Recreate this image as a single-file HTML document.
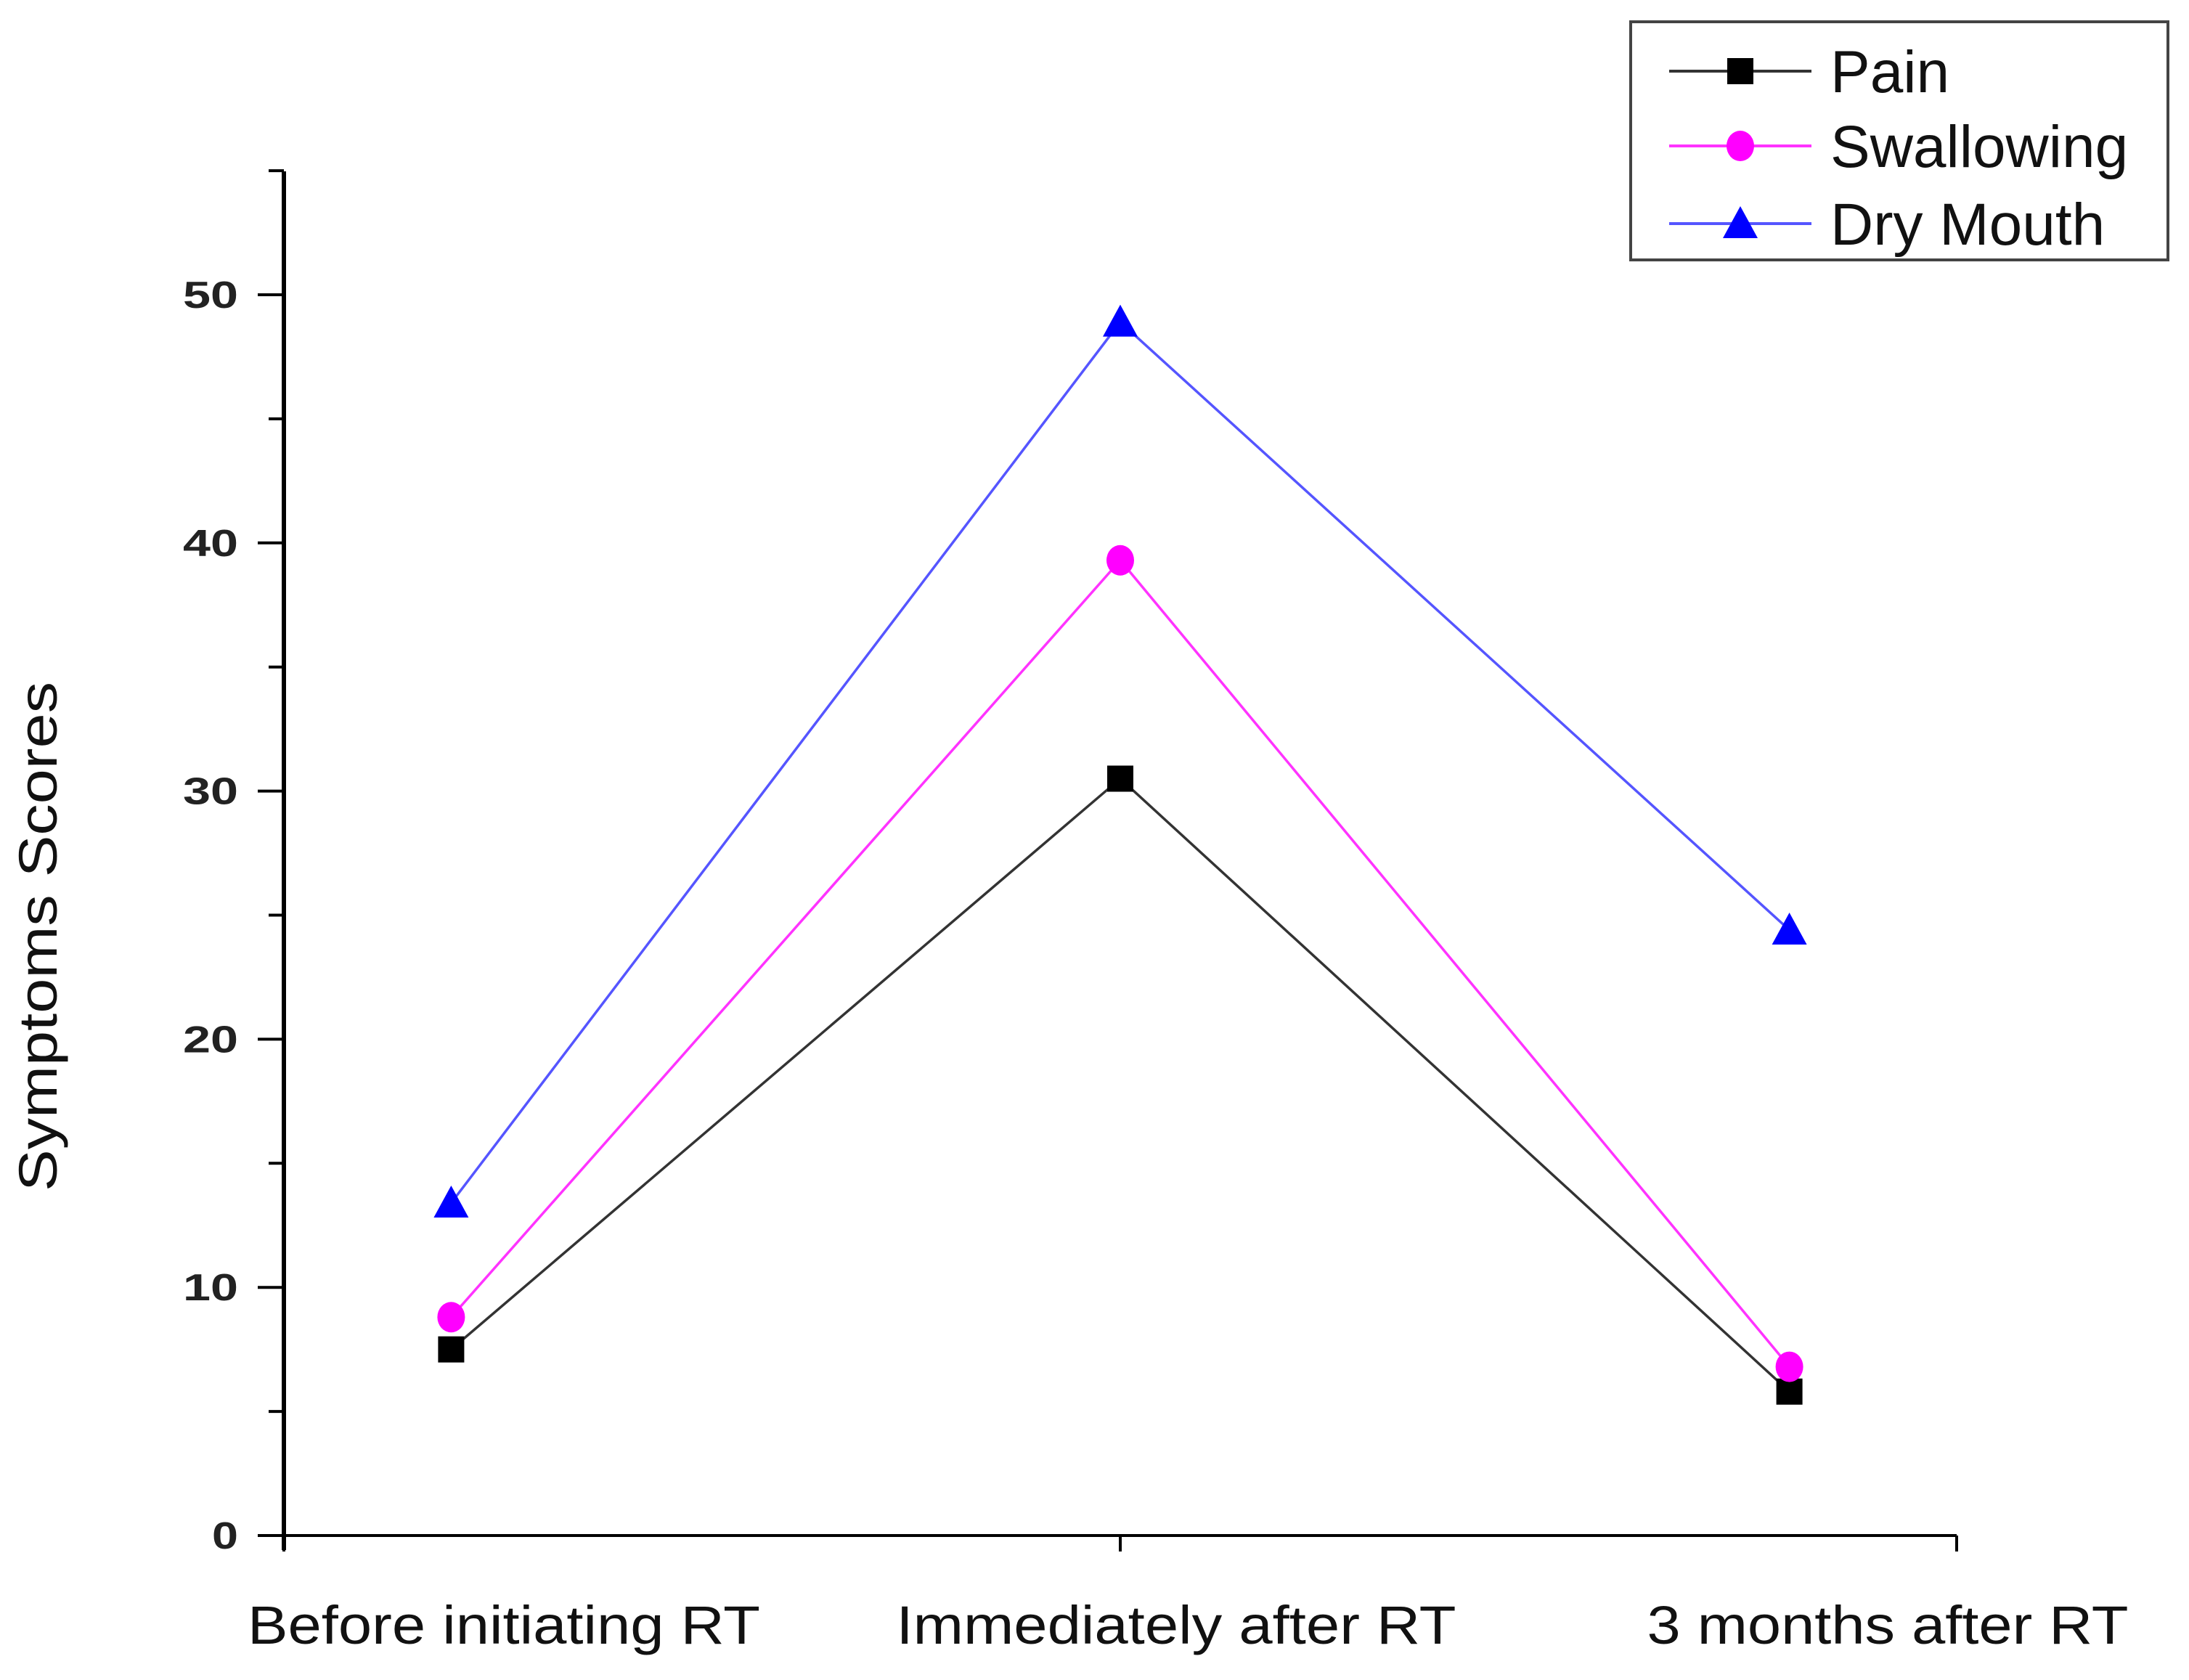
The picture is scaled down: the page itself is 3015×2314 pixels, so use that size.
<!DOCTYPE html>
<html><head><meta charset="utf-8"><style>html,body{margin:0;padding:0;background:#fff}svg{display:block}</style></head>
<body>
<svg id="chart" width="3015" height="2314" viewBox="0 0 3015 2314" xmlns="http://www.w3.org/2000/svg" font-family="'Liberation Sans', Arial, sans-serif">
<g id="axes"></g>
<g id="series"></g>
<g id="legend">
  <rect x="2246" y="30" width="740" height="328" fill="#fff" stroke="#444" stroke-width="4"/>
</g>
</svg>
<script>
const categories = ["Before initiating RT", "Immediately after RT", "3 months after RT"];
const painValues = [7.5, 30.5, 5.8];
const swallowingValues = [8.8, 39.3, 6.8];
const dryMouthValues = [13.4, 48.9, 24.4];
const yTicks = [0, 10, 20, 30, 40, 50];
const seriesNames = ["Pain", "Swallowing", "Dry Mouth"];

const NS = "http://www.w3.org/2000/svg";
const X0 = 391, X1 = 2695, Y0 = 2115, Y50 = 406;
function xScale(i){ return X0 + (i + 0.25) / 2.5 * (X1 - X0); }
function yScale(v){ return Y0 - v / 50 * (Y0 - Y50); }
function mk(tag, attrs, parent){ const e = document.createElementNS(NS, tag); for (const k in attrs) e.setAttribute(k, attrs[k]); parent.appendChild(e); return e; }

const axes = document.getElementById('axes');
let yAxis = mk('line', {x1:X0, y1:236, x2:X0, y2:Y0+20, stroke:'#000','stroke-width':6}, axes);


let xAxis = mk('line', {x1:X0, y1:Y0, x2:X1, y2:Y0, stroke:'#000','stroke-width':4}, axes);


for (let v = 0; v <= 55; v += 5) {
  const major = v % 10 === 0;
  const t = mk('line', {x1: major ? 355 : 370, y1:yScale(v), x2:X0, y2:yScale(v), stroke:'#000','stroke-width':4}, axes);
  
  
}
yTicks.forEach(v => {
  const w = v === 0 ? 36 : 76;
  const t = mk('text', {x:328, y:yScale(v)+18, 'text-anchor':'end', 'font-size':52, 'font-weight':'bold', fill:'#222', textLength:w, lengthAdjust:'spacingAndGlyphs'}, axes);
  t.textContent = v;
  
  
});
[X0, xScale(1), X1].forEach(x => {
  const t = mk('line', {x1:x, y1:Y0, x2:x, y2:Y0+22, stroke:'#000','stroke-width':4}, axes);
  
  
});
const catLen = [706, 771, 663];
const catCenter = [694, 1620, 2600];
categories.forEach((c, i) => {
  const t = mk('text', {x:catCenter[i], y:2264, 'text-anchor':'middle', 'font-size':74, fill:'#111', textLength:catLen[i], lengthAdjust:'spacingAndGlyphs'}, axes);
  t.textContent = c;
  
  
});
const yt = mk('text', {x:0, y:0, transform:'translate(78,1290) rotate(-90)', 'text-anchor':'middle', 'font-size':74, fill:'#111', textLength:702, lengthAdjust:'spacingAndGlyphs'}, axes);
yt.textContent = 'Symptoms Scores';



function marker(parent, kind, x, y, color){
  let m;
  if (kind === 'square') m = mk('rect', {x:x-18, y:y-18, width:36, height:36, fill:color}, parent);
  else if (kind === 'circle') m = mk('ellipse', {cx:x, cy:y, rx:19, ry:21, fill:color}, parent);
  else m = mk('polygon', {points:`${x},${y-24} ${x+24},${y+20} ${x-24},${y+20}`, fill:color}, parent);
  return m;
}
const seriesDefs = [
  {name:'pain', vals:painValues, color:'#000', line:'#333', kind:'square'},
  {name:'swallowing', vals:swallowingValues, color:'#ff00ff', line:'#ff33ff', kind:'circle'},
  {name:'dry-mouth', vals:dryMouthValues, color:'#0000ff', line:'#5555ff', kind:'triangle'}
];
const sg = document.getElementById('series');
seriesDefs.forEach(s => {
  const pts = s.vals.map((v, i) => xScale(i) + ',' + yScale(v)).join(' ');
  const l = mk('polyline', {points:pts, fill:'none', stroke:s.line, 'stroke-width':3.5}, sg);
  
  
  s.vals.forEach((v, i) => {
    const m = marker(sg, s.kind, xScale(i), yScale(v), s.color);
    
    
  });
});
const lg = document.getElementById('legend');
const rowY = [98, 201, 308];
seriesDefs.forEach((s, i) => {
  const l = mk('line', {x1:2299, y1:rowY[i], x2:2495, y2:rowY[i], stroke:s.line, 'stroke-width':4}, lg);
  
  
  const m = marker(lg, s.kind, 2397, rowY[i], s.color);
  
  
  const t = mk('text', {x:2521, y:rowY[i]+29, 'font-size':82, fill:'#111'}, lg);
  t.textContent = seriesNames[i];
  
  
});
</script>
</body></html>
